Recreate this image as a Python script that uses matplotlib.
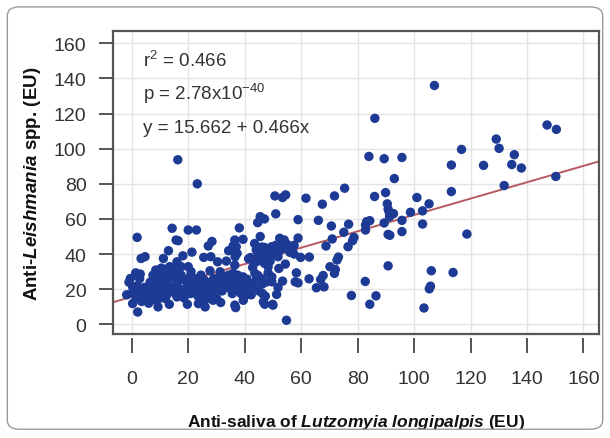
import matplotlib
matplotlib.use("Agg")
import matplotlib.pyplot as plt
from matplotlib.patches import FancyBboxPatch

# anti-saliva of Lutzomyia longipalpis (EU) vs anti-Leishmania spp. (EU)
saliva = [
    107.2, 86.1, 16.3, 23.2, 84.0, 89.4, 95.7, 93.0, 116.8, 113.2, 124.6, 129.1, 130.1, 135.5,
    134.6, 138.0, 131.9, 147.1, 150.4, 150.2, 113.2, 118.7, 113.8, 106.1, 105.8, 105.4, 103.5,
    105.3, 101.0, 103.0, 103.0, 98.7, 95.7, 95.7, 92.7, 90.8, 90.5, 89.9, 91.2, 91.3, 89.4, 90.8,
    91.4, 90.8, 86.0, 84.3, 82.8, 82.8, 83.2, 82.7, 86.5, 84.3, 77.8, 75.4, 71.8, 67.5, 61.7,
    70.7, 66.1, 76.8, 75.1, 78.7, 78.2, 76.6, 71.0, 68.8, 73.2, 72.7, 70.2, 72.1, 71.8, 67.8,
    66.9, 68.1, 65.4, 62.8, 62.9, 59.8, 58.9, 58.9, 58.3, 57.9, 58.9, 50.7, 54.5, 53.4, 51.0,
    54.8, 53.4, 52.4, 54.0, 57.0, 50.0,
    45.5, 44.6, 47.0, 45.5, 38.1, 39.4, 36.5, 35.9, 34.3, 37.3, 41.4, 43.0, 44.1, 44.8, 47.0,
    48.3, 49.6, 49.2, 50.4, 51.8, 45.8, 44.1, 47.0, 48.3, 42.8, 43.6, 44.7, 48.3, 49.6, 49.6,
    46.2, 46.3, 47.3, 46.6, 47.1, 49.9, 51.3, 51.8, 52.1, 54.4, 41.4, 42.3, 40.0, 39.5, 38.7,
    40.8, 37.0, 36.5, 36.8, 35.6, 38.7, 39.4, 37.9, 35.9, 36.5, 34.3, 32.9, 34.5, 31.8, 31.3,
    30.4, 30.4, 31.3, 31.5, 28.8, 28.0, 27.7, 28.0, 28.4, 27.1, 25.5, 25.5, 25.0, 25.0, 26.0,
    25.0, 23.6, 22.9, 20.0, 21.3, 20.0, 20.8, 21.6, 19.5, 20.8, 19.7, 22.9, 23.6, 22.2, 18.1,
    17.5, 15.7, 14.3, 16.4, 13.0, 11.2, 16.0, 16.4, 16.7, 15.3, 16.0, 13.4, 12.0, 10.1, 8.5,
    9.9, 11.2, 12.9, 8.5, 7.8, 9.2, 9.3, 6.3, 5.8, 5.1, 4.6, 3.3, 4.7, 1.9, 1.4, 3.0, 2.1, -0.5,
    -1.8, 0.3, 1.1, 0.3, 2.3, 3.3, 13.3, 11.8, 17.8, 33.5, 36.6, 37.0,
    -1.0, 0.5, 1.5, 2.0, 2.8, 3.5, 4.0, 4.5, 5.5, 6.0, 6.5, 7.0, 7.5, 8.0, 8.8, 9.5, 10.5, 10.8,
    11.5, 12.2, 12.8, 13.5, 14.0, 14.5, 15.0, 15.6, 16.2, 17.0, 17.5, 18.5, 19.0, 19.5, 20.5,
    21.0, 21.8, 22.5, 23.0, 23.5, 24.0, 24.5, 25.5, 26.0, 26.5, 27.0, 27.8, 28.5, 29.0, 29.5,
    30.0, 31.0, 32.0, 32.5, 33.5, 34.0, 35.0, 36.0, 37.5, 38.0, 39.0, 40.0, 41.0, 42.0, 43.0,
    44.0, 45.0, 46.0, 47.5, 48.5, 49.0, 50.0, 51.0, 52.5, 53.0, 55.0, 56.0, 57.5, 46.0, 47.8,
    43.5, 42.0, 57.5, 56.0, 55.0,
]
leish = [
    136.0, 117.3, 93.7, 80.0, 95.6, 94.3, 95.0, 83.0, 99.6, 90.7, 90.5, 105.5, 100.2, 96.6,
    91.0, 89.0, 79.0, 113.5, 111.0, 84.2, 75.6, 51.4, 29.5, 30.5, 21.7, 20.2, 9.3,
    68.6, 72.2, 64.6, 57.1, 63.8, 59.2, 52.8, 63.0, 65.5, 68.6, 75.0, 63.8, 61.3, 57.7, 51.2,
    50.7, 33.3, 72.8, 59.0, 56.6, 53.7, 58.5, 24.4, 16.2, 11.4, 16.4, 77.5, 73.1, 68.4, 71.8,
    56.0, 59.2, 57.0, 52.4, 49.5, 47.6, 44.2, 48.6, 44.6, 38.3, 36.6, 32.8, 31.2, 29.0, 27.8,
    25.5, 21.3, 20.8, 25.9, 38.3, 38.1, 59.6, 49.1, 29.3, 24.2, 23.6, 73.1, 73.7, 72.2, 62.9,
    2.3, 24.6, 49.0, 48.0, 43.8, 10.9,
    61.3, 57.9, 60.0, 50.0, 54.9, 48.4, 48.0, 44.6, 41.9, 40.4, 37.3, 36.6, 42.3, 40.4, 43.8,
    42.3, 44.2, 41.0, 40.0, 38.5, 38.5, 35.6, 34.7, 32.8, 32.4, 29.0, 27.8, 29.3, 27.0, 24.2,
    22.9, 17.5, 16.0, 12.8, 11.4, 11.4, 17.0, 21.0, 31.8, 34.3, 19.4, 16.8, 16.0, 13.7, 17.5,
    25.7, 21.0, 10.9, 9.5, 17.5, 21.7, 27.0, 24.6, 29.0, 33.7, 28.0, 25.1, 23.2, 21.7, 29.9,
    26.1, 35.6, 19.4, 12.4, 13.7, 23.6, 30.5, 38.5, 47.2, 44.6, 38.1, 25.5, 21.7, 17.5, 9.9,
    12.8, 11.8, 53.7, 53.7, 41.1, 32.8, 27.4, 23.2, 21.3, 17.5, 11.4, 21.3, 25.1, 24.8, 39.0,
    32.8, 48.0, 54.7, 47.6, 41.9, 37.5, 35.6, 30.5, 25.1, 21.3, 15.6, 32.8, 31.2, 29.0, 30.9,
    24.8, 22.3, 19.4, 21.7, 17.5, 14.1, 9.9, 22.3, 17.5, 13.7, 16.0, 37.5, 38.5, 49.5, 29.3,
    28.6, 7.0, 26.1, 16.8, 21.3, 17.5, 11.8, 14.7, 19.4, 11.4, 14.7, 19.4, 36.0, 38.5, 44.2,
    24.0, 19.0, 15.0, 22.0, 26.0, 13.0, 18.0, 21.0, 15.0, 12.0, 24.0, 19.0, 28.0, 14.0, 26.0,
    18.0, 32.0, 20.0, 27.0, 16.0, 24.0, 30.0, 21.0, 27.0, 18.0, 32.0, 24.0, 20.0, 28.0, 15.0,
    25.0, 19.0, 22.0, 30.0, 18.0, 26.0, 20.0, 16.0, 23.0, 28.0, 19.0, 14.0, 24.0, 16.0, 21.0,
    18.0, 26.0, 22.0, 15.0, 25.0, 19.0, 23.0, 27.0, 21.0, 26.0, 23.0, 28.0, 19.0, 23.0, 21.0,
    24.0, 18.0, 22.0, 25.0, 19.0, 26.0, 24.0, 38.0, 36.0, 41.0, 45.0, 42.0, 44.0, 43.0, 41.0,
    40.0, 44.0, 40.0, 46.0, 38.0, 45.0, 42.0, 45.5,
]

intercept, slope = 15.662, 0.466
r2_text = r"r$^2$ = 0.466"
p_text = r"p = 2.78x10$^{-40}$"
eq_text = "y = 15.662 + 0.466x"

ticks = [0, 20, 40, 60, 80, 100, 120, 140, 160]

plt.rcParams["font.family"] = ["Liberation Sans", "DejaVu Sans"]
plt.rcParams["mathtext.fontset"] = "custom"
plt.rcParams["mathtext.rm"] = "Liberation Sans"
plt.rcParams["mathtext.bf"] = "Liberation Sans:bold"
plt.rcParams["mathtext.it"] = "Liberation Sans:italic"
plt.rcParams["mathtext.bfit"] = "Liberation Sans:bold:italic"

fig = plt.figure(figsize=(6.10, 4.39), dpi=100)
ax = fig.add_axes([0.185, 0.237, 0.797, 0.690])

frame = FancyBboxPatch((0.012, 0.02), 0.976, 0.962, boxstyle="round,pad=0,rounding_size=0.02",
                       transform=fig.transFigure, facecolor="none", edgecolor="#9a9a9a", lw=1.0)
fig.patches.append(frame)

xlim = (-6.7, 165.5)
ax.set_xlim(*xlim)
ax.set_ylim(-5.5, 167)
ax.set_xticks(ticks)
ax.set_yticks(ticks)
ax.grid(True, color="#e4e4e4", lw=1.0)
ax.set_axisbelow(True)

ax.plot(xlim, [intercept + slope * v for v in xlim], color="#b65a60", lw=1.4, zorder=2)
ax.scatter(saliva, leish, s=46, color="#1d3a94", edgecolors="none", zorder=3)

for s in ax.spines.values():
    s.set_color("#555555")
    s.set_linewidth(1.6)

ax.tick_params(axis="x", length=0, labelbottom=False)
ax.tick_params(axis="y", direction="out", length=10, width=1.4, color="#555555",
               labelsize=14, pad=9, labelcolor="#333333")

sec = ax.secondary_xaxis(-0.012)
sec.set_xticks(ticks)
sec.spines["bottom"].set_visible(False)
sec.tick_params(direction="out", length=11, width=1.4, color="#555555",
                labelsize=14, pad=12, labelcolor="#333333")

ax.set_ylabel(r"Anti-$\mathbfit{Leishmania}$ spp. (EU)", fontsize=13.5, fontweight="bold",
              color="#111111", labelpad=8)
sec.set_xlabel(r"Anti-saliva of $\mathbfit{Lutzomyia\ longipalpis}$ (EU)", fontsize=12.5,
               fontweight="bold", color="#111111", labelpad=18)

for txt, yy in [(r2_text, 0.905), (p_text, 0.795), (eq_text, 0.68)]:
    ax.text(0.062, yy, txt, transform=ax.transAxes, fontsize=13.5, va="center",
            color="#333333")

fig.savefig("out.png", dpi=100)
